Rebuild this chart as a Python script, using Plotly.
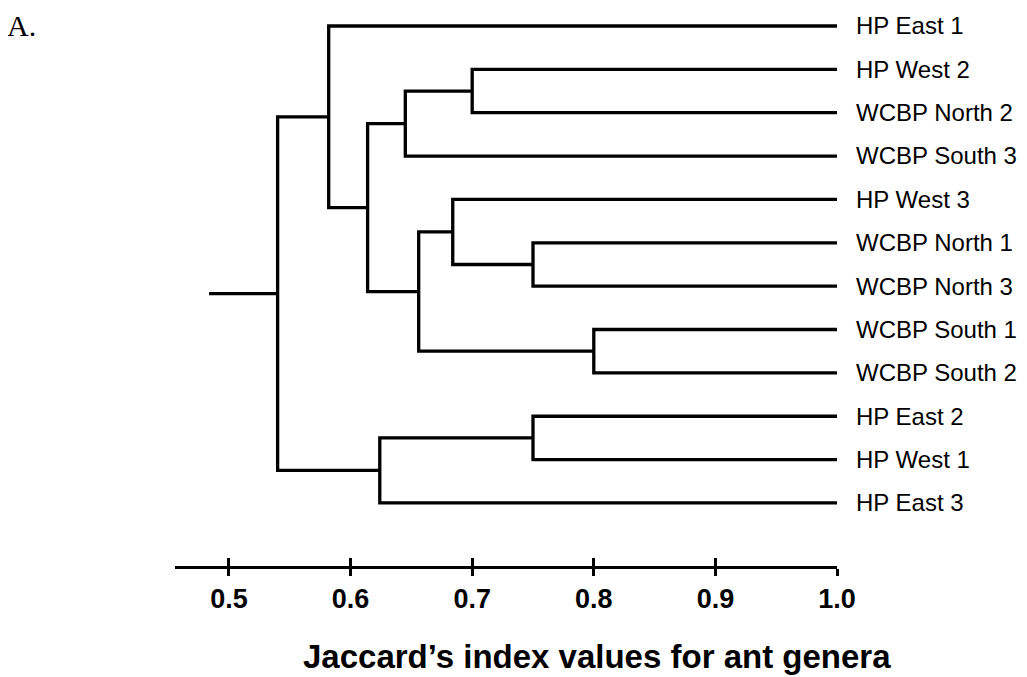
import plotly.graph_objects as go

# Leaves, top to bottom
leaf_labels = ["HP East 1", "HP West 2", "WCBP North 2", "WCBP South 3", "HP West 3",
               "WCBP North 1", "WCBP North 3", "WCBP South 1", "WCBP South 2",
               "HP East 2", "HP West 1", "HP East 3"]

# Linkage: node ids 0..11 are leaves, merges get ids 12, 13, ...
merge_left = [1, 5, 7, 9, 4, 12, 16, 17, 0, 15, 20]
merge_right = [2, 6, 8, 10, 13, 3, 14, 18, 19, 11, 21]
merge_height = [0.700, 0.750, 0.800, 0.750, 0.684, 0.645, 0.656, 0.614, 0.582, 0.624, 0.540]
root_stub_start = 0.4836

tick_vals = [0.5, 0.6, 0.7, 0.8, 0.9, 1.0]
tick_text = ["0.5", "0.6", "0.7", "0.8", "0.9", "1.0"]

n_leaves = len(leaf_labels)
pos_x = {i: 1.0 for i in range(n_leaves)}
pos_y = {i: float(i) for i in range(n_leaves)}

xs, ys = [], []
for k, (a, b, h) in enumerate(zip(merge_left, merge_right, merge_height)):
    node = n_leaves + k
    xs += [pos_x[a], h, h, pos_x[b], None]
    ys += [pos_y[a], pos_y[a], pos_y[b], pos_y[b], None]
    pos_x[node] = h
    pos_y[node] = (pos_y[a] + pos_y[b]) / 2
root = n_leaves + len(merge_height) - 1
xs += [root_stub_start, pos_x[root]]
ys += [pos_y[root], pos_y[root]]

fig = go.Figure()
fig.add_trace(go.Scatter(x=xs, y=ys, mode="lines",
                         line=dict(color="black", width=3.3),
                         hoverinfo="skip", showlegend=False))
# invisible trace to host the overlay axis (upper half of crossing ticks)
fig.add_trace(go.Scatter(x=[0.5], y=[0], xaxis="x2", mode="markers",
                         marker=dict(opacity=0), hoverinfo="skip", showlegend=False))

x_range = [0.4556, 1.0]
fig.update_layout(
    width=1019, height=669,
    margin=dict(l=167, r=190, t=0, b=111, pad=0),
    paper_bgcolor="white", plot_bgcolor="white",
    font=dict(family="Liberation Sans, Arial, sans-serif", color="black"),
    xaxis=dict(range=x_range, showgrid=False, zeroline=False,
               showline=True, linecolor="black", linewidth=3,
               tickvals=tick_vals, ticktext=tick_text,
               ticks="outside", ticklen=7, tickwidth=3, tickcolor="black",
               ticklabelstandoff=0,
               tickfont=dict(size=27, weight="bold", family="Liberation Sans, Arial, sans-serif")),
    xaxis2=dict(range=x_range, overlaying="x", anchor="y", side="bottom",
                showgrid=False, zeroline=False, showline=False,
                tickvals=tick_vals, ticks="inside", ticklen=8, tickwidth=3,
                tickcolor="black", showticklabels=False),
    yaxis=dict(range=[12.454, -0.4151], side="right", anchor="x",
               showgrid=False, zeroline=False, showline=False,
               tickvals=list(range(n_leaves)), ticktext=leaf_labels,
               ticks="", ticklabelstandoff=18,
               tickfont=dict(size=24, family="Liberation Sans, Arial, sans-serif")),
    annotations=[
        dict(text="Jaccard\u2019s index values for ant genera", xref="paper", yref="paper",
             x=0.6382, y=-0.1613, xanchor="center", yanchor="middle", showarrow=False,
             font=dict(size=33, weight="bold", family="Liberation Sans, Arial, sans-serif")),
        dict(text="A.", xref="paper", yref="paper", x=-0.2553, y=1.0,
             xanchor="left", yanchor="top", showarrow=False, borderpad=0,
             font=dict(size=30, family="Liberation Serif, Times New Roman, serif")),
    ],
)

fig.write_html("out.html")
